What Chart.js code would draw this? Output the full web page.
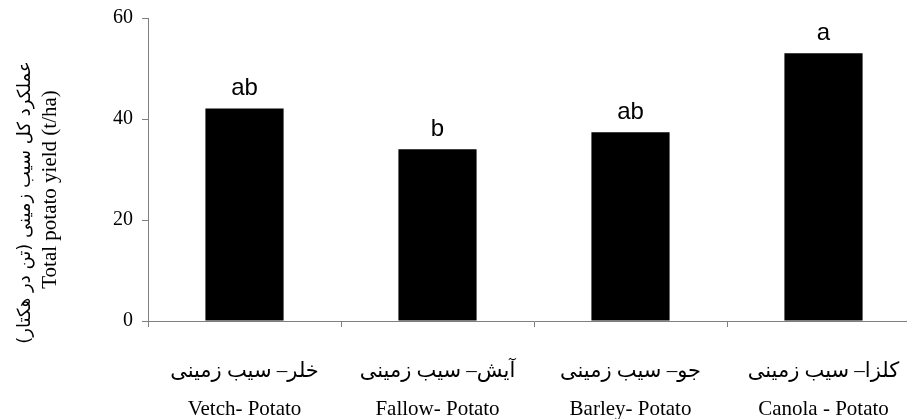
<!DOCTYPE html>
<html>
<head>
<meta charset="utf-8">
<script src="https://cdn.jsdelivr.net/npm/chart.js@4/dist/chart.umd.min.js"></script>
<style>
  html, body { margin: 0; padding: 0; background: #fff; overflow: hidden; }
  #frame { width: 907px; height: 419px; overflow: hidden; }
  #wrap { width: 920px; height: 419px; }
</style>
</head>
<body>
<div id="frame"><div id="wrap"><canvas id="chart"></canvas></div></div>
<script>
  const categoriesFa = ['خلر– سیب زمینی', 'آیش– سیب زمینی', 'جو– سیب زمینی', 'کلزا– سیب زمینی'];
  const categoriesEn = ['Vetch- Potato', 'Fallow- Potato', 'Barley- Potato', 'Canola - Potato'];
  const yieldValues = [42.1, 34.0, 37.4, 53.0];
  const groupLetters = ['ab', 'b', 'ab', 'a'];
  const yTitleFa = 'عملکرد کل سیب زمینی (تن در هکتار)';
  const yTitleEn = 'Total potato yield (t/ha)';

  const axisGrey = '#7f7f7f';
  const serif = "'Liberation Serif', 'Times New Roman', 'DejaVu Sans', serif";

  // letters of the mean-comparison test above each bar, and the two-line y title
  const annotatePlugin = {
    id: 'annotate',
    afterDatasetsDraw(chart) {
      const ctx = chart.ctx;
      const bars = chart.getDatasetMeta(0).data;
      ctx.save();
      ctx.font = "24px 'Liberation Sans', Arial, sans-serif";
      ctx.fillStyle = '#000';
      ctx.textAlign = 'center';
      ctx.textBaseline = 'alphabetic';
      bars.forEach((bar, i) => {
        ctx.fillText(groupLetters[i], bar.x, bar.y - 13);
      });
      ctx.restore();
    },
    afterDraw(chart) {
      const ctx = chart.ctx;
      const mid = (chart.chartArea.top + chart.chartArea.bottom) / 2;
      ctx.save();
      ctx.fillStyle = '#000';
      ctx.textAlign = 'center';
      ctx.textBaseline = 'middle';
      ctx.font = "18px 'DejaVu Sans', sans-serif";
      ctx.save();
      ctx.translate(25, mid + 33);
      ctx.rotate(-Math.PI / 2);
      ctx.fillText(yTitleFa, 0, 0);
      ctx.restore();
      ctx.font = '21px ' + serif;
      ctx.translate(50, mid + 20);
      ctx.rotate(-Math.PI / 2);
      ctx.fillText(yTitleEn, 0, 0);
      ctx.restore();
    },
  };

  new Chart(document.getElementById('chart'), {
    type: 'bar',
    data: {
      labels: categoriesEn.map((en, i) => [categoriesFa[i], en]),
      datasets: [{
        data: yieldValues,
        backgroundColor: '#000',
        borderWidth: 0,
        barPercentage: 0.405,
        categoryPercentage: 1,
      }],
    },
    options: {
      responsive: true,
      maintainAspectRatio: false,
      animation: false,
      layout: { padding: { top: 18, left: 0, right: 0, bottom: 0 } },
      plugins: { legend: { display: false }, tooltip: { enabled: false } },
      scales: {
        x: {
          offset: true,
          grid: { offset: true, drawOnChartArea: false, tickLength: 6, tickColor: axisGrey, tickWidth: 1 },
          border: { color: axisGrey, width: 1 },
          ticks: {
            color: '#000',
            font: { family: serif, size: 21, lineHeight: 1.8 },
            padding: 26,
            maxRotation: 0,
            autoSkip: false,
          },
          afterFit(scale) {
            scale.height = 98;
            scale.paddingLeft = 0;
            scale.paddingRight = 0;
          },
        },
        y: {
          min: 0,
          max: 60,
          grid: { drawOnChartArea: false, tickLength: 6, tickColor: axisGrey, tickWidth: 1 },
          border: { color: axisGrey, width: 1 },
          ticks: {
            stepSize: 20,
            color: '#000',
            font: { family: serif, size: 20 },
            padding: 9,
          },
          afterFit(scale) {
            scale.width = 148;
            scale.paddingTop = 0;
            scale.paddingBottom = 0;
          },
        },
      },
    },
    plugins: [annotatePlugin],
  });
</script>
</body>
</html>
